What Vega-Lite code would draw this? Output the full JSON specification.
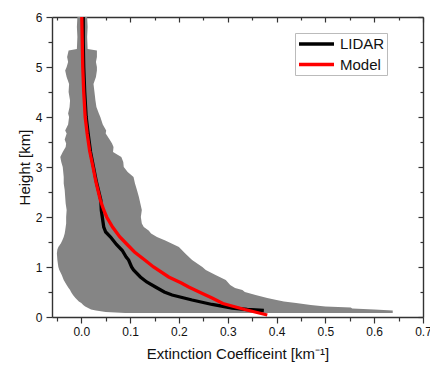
{
  "$schema": "https://vega.github.io/schema/vega-lite/v6.json",
  "width": 371,
  "height": 300,
  "autosize": {"type": "none"},
  "padding": {"left": 52, "top": 17, "right": 7, "bottom": 49},
  "background": "white",
  "config": {
    "view": {"stroke": null},
    "font": "Liberation Sans",
    "axis": {"grid": false, "domainColor": "#333", "domainWidth": 1.4, "tickColor": "#333", "tickWidth": 1.2, "labelColor": "#111", "titleColor": "#111", "labelFont": "Liberation Sans", "titleFont": "Liberation Sans", "labelFontSize": 12, "titleFontSize": 15, "titleFontWeight": "normal"}
  },
  "datasets": {
    "band": [
      {"h": 0.08, "lo": 0.09, "hi": 0.638},
      {"h": 0.10, "lo": 0.05, "hi": 0.638},
      {"h": 0.13, "lo": 0.03, "hi": 0.638},
      {"h": 0.15, "lo": 0.02, "hi": 0.60},
      {"h": 0.17, "lo": 0.016, "hi": 0.555},
      {"h": 0.19, "lo": 0.012, "hi": 0.552},
      {"h": 0.21, "lo": 0.008, "hi": 0.50},
      {"h": 0.24, "lo": 0.004, "hi": 0.47},
      {"h": 0.28, "lo": 0.0, "hi": 0.44},
      {"h": 0.31, "lo": -0.005, "hi": 0.415},
      {"h": 0.34, "lo": -0.008, "hi": 0.40},
      {"h": 0.38, "lo": -0.012, "hi": 0.381},
      {"h": 0.44, "lo": -0.017, "hi": 0.357},
      {"h": 0.50, "lo": -0.021, "hi": 0.335},
      {"h": 0.54, "lo": -0.023, "hi": 0.33},
      {"h": 0.58, "lo": -0.026, "hi": 0.315},
      {"h": 0.64, "lo": -0.030, "hi": 0.305},
      {"h": 0.74, "lo": -0.036, "hi": 0.296},
      {"h": 0.84, "lo": -0.040, "hi": 0.275},
      {"h": 0.94, "lo": -0.045, "hi": 0.255},
      {"h": 1.00, "lo": -0.047, "hi": 0.248},
      {"h": 1.14, "lo": -0.049, "hi": 0.227},
      {"h": 1.27, "lo": -0.050, "hi": 0.213},
      {"h": 1.35, "lo": -0.049, "hi": 0.205},
      {"h": 1.40, "lo": -0.047, "hi": 0.20},
      {"h": 1.47, "lo": -0.042, "hi": 0.185},
      {"h": 1.53, "lo": -0.039, "hi": 0.172},
      {"h": 1.60, "lo": -0.036, "hi": 0.155},
      {"h": 1.67, "lo": -0.034, "hi": 0.143},
      {"h": 1.73, "lo": -0.033, "hi": 0.138},
      {"h": 1.80, "lo": -0.032, "hi": 0.128},
      {"h": 1.87, "lo": -0.031, "hi": 0.124},
      {"h": 2.00, "lo": -0.031, "hi": 0.122},
      {"h": 2.14, "lo": -0.030, "hi": 0.124},
      {"h": 2.27, "lo": -0.032, "hi": 0.121},
      {"h": 2.40, "lo": -0.033, "hi": 0.118},
      {"h": 2.54, "lo": -0.034, "hi": 0.114},
      {"h": 2.67, "lo": -0.036, "hi": 0.110},
      {"h": 2.80, "lo": -0.036, "hi": 0.107},
      {"h": 2.90, "lo": -0.037, "hi": 0.095},
      {"h": 3.00, "lo": -0.038, "hi": 0.087},
      {"h": 3.10, "lo": -0.041, "hi": 0.086},
      {"h": 3.20, "lo": -0.043, "hi": 0.082},
      {"h": 3.30, "lo": -0.038, "hi": 0.065},
      {"h": 3.40, "lo": -0.032, "hi": 0.066},
      {"h": 3.47, "lo": -0.031, "hi": 0.063},
      {"h": 3.55, "lo": -0.034, "hi": 0.058},
      {"h": 3.67, "lo": -0.030, "hi": 0.050},
      {"h": 3.73, "lo": -0.033, "hi": 0.051},
      {"h": 3.85, "lo": -0.027, "hi": 0.044},
      {"h": 4.00, "lo": -0.025, "hi": 0.039},
      {"h": 4.07, "lo": -0.027, "hi": 0.036},
      {"h": 4.20, "lo": -0.024, "hi": 0.031},
      {"h": 4.33, "lo": -0.023, "hi": 0.029},
      {"h": 4.50, "lo": -0.026, "hi": 0.027},
      {"h": 4.66, "lo": -0.025, "hi": 0.025},
      {"h": 4.80, "lo": -0.030, "hi": 0.030},
      {"h": 4.93, "lo": -0.033, "hi": 0.032},
      {"h": 5.00, "lo": -0.030, "hi": 0.032},
      {"h": 5.10, "lo": -0.027, "hi": 0.030},
      {"h": 5.20, "lo": -0.029, "hi": 0.032},
      {"h": 5.33, "lo": -0.026, "hi": 0.032},
      {"h": 5.36, "lo": -0.009, "hi": 0.013},
      {"h": 5.60, "lo": -0.008, "hi": 0.012},
      {"h": 5.80, "lo": -0.009, "hi": 0.013},
      {"h": 6.00, "lo": -0.008, "hi": 0.012}
    ],
    "lines": [
      {"series": "LIDAR", "h": 0.13, "v": 0.374},
      {"series": "LIDAR", "h": 0.15, "v": 0.34},
      {"series": "LIDAR", "h": 0.18, "v": 0.309},
      {"series": "LIDAR", "h": 0.25, "v": 0.268},
      {"series": "LIDAR", "h": 0.34, "v": 0.227},
      {"series": "LIDAR", "h": 0.44, "v": 0.186},
      {"series": "LIDAR", "h": 0.50, "v": 0.170},
      {"series": "LIDAR", "h": 0.60, "v": 0.152},
      {"series": "LIDAR", "h": 0.70, "v": 0.134},
      {"series": "LIDAR", "h": 0.80, "v": 0.121},
      {"series": "LIDAR", "h": 0.94, "v": 0.107},
      {"series": "LIDAR", "h": 1.00, "v": 0.103},
      {"series": "LIDAR", "h": 1.14, "v": 0.097},
      {"series": "LIDAR", "h": 1.20, "v": 0.092},
      {"series": "LIDAR", "h": 1.33, "v": 0.084},
      {"series": "LIDAR", "h": 1.45, "v": 0.072},
      {"series": "LIDAR", "h": 1.60, "v": 0.060},
      {"series": "LIDAR", "h": 1.70, "v": 0.050},
      {"series": "LIDAR", "h": 1.80, "v": 0.046},
      {"series": "LIDAR", "h": 2.00, "v": 0.043},
      {"series": "LIDAR", "h": 2.14, "v": 0.041},
      {"series": "LIDAR", "h": 2.34, "v": 0.040},
      {"series": "LIDAR", "h": 2.70, "v": 0.031},
      {"series": "LIDAR", "h": 3.00, "v": 0.025},
      {"series": "LIDAR", "h": 3.30, "v": 0.019},
      {"series": "LIDAR", "h": 3.67, "v": 0.014},
      {"series": "LIDAR", "h": 4.00, "v": 0.010},
      {"series": "LIDAR", "h": 4.50, "v": 0.007},
      {"series": "LIDAR", "h": 5.00, "v": 0.005},
      {"series": "LIDAR", "h": 5.50, "v": 0.004},
      {"series": "LIDAR", "h": 6.00, "v": 0.004},
      {"series": "Model", "h": 0.04, "v": 0.381},
      {"series": "Model", "h": 0.15, "v": 0.335},
      {"series": "Model", "h": 0.27, "v": 0.290},
      {"series": "Model", "h": 0.38, "v": 0.268},
      {"series": "Model", "h": 0.47, "v": 0.248},
      {"series": "Model", "h": 0.60, "v": 0.220},
      {"series": "Model", "h": 0.68, "v": 0.205},
      {"series": "Model", "h": 0.80, "v": 0.179},
      {"series": "Model", "h": 1.00, "v": 0.148},
      {"series": "Model", "h": 1.14, "v": 0.130},
      {"series": "Model", "h": 1.30, "v": 0.109},
      {"series": "Model", "h": 1.47, "v": 0.092},
      {"series": "Model", "h": 1.60, "v": 0.079},
      {"series": "Model", "h": 1.80, "v": 0.064},
      {"series": "Model", "h": 2.00, "v": 0.052},
      {"series": "Model", "h": 2.14, "v": 0.046},
      {"series": "Model", "h": 2.34, "v": 0.039},
      {"series": "Model", "h": 2.70, "v": 0.030},
      {"series": "Model", "h": 3.00, "v": 0.024},
      {"series": "Model", "h": 3.33, "v": 0.017},
      {"series": "Model", "h": 3.67, "v": 0.012},
      {"series": "Model", "h": 4.00, "v": 0.008},
      {"series": "Model", "h": 4.50, "v": 0.005},
      {"series": "Model", "h": 5.00, "v": 0.003},
      {"series": "Model", "h": 5.50, "v": 0.002},
      {"series": "Model", "h": 6.00, "v": 0.001}
    ]
  },
  "layer": [
    {
      "data": {"name": "band"},
      "mark": {"type": "area", "orient": "horizontal", "color": "#858585", "clip": true},
      "encoding": {
        "y": {
          "field": "h", "type": "quantitative",
          "scale": {"domain": [0, 6], "nice": false, "zero": false},
          "axis": {
            "orient": "left",
            "values": [0, 0.5, 1, 1.5, 2, 2.5, 3, 3.5, 4, 4.5, 5, 5.5, 6],
            "labelExpr": "datum.value % 1 == 0 ? format(datum.value, 'd') : ''",
            "tickSize": {"condition": {"test": "datum.value % 1 == 0", "value": 6}, "value": 4},
            "labelPadding": 4,
            "labelOverlap": false,
            "labelFlush": false,
            "title": "Height [km]",
            "titlePadding": 3
          }
        },
        "x": {
          "field": "lo", "type": "quantitative",
          "scale": {"domain": [-0.06, 0.7], "nice": false, "zero": false},
          "axis": {
            "orient": "bottom",
            "values": [-0.05, 0, 0.05, 0.1, 0.15, 0.2, 0.25, 0.3, 0.35, 0.4, 0.45, 0.5, 0.55, 0.6, 0.65, 0.7],
            "labelExpr": "abs(datum.value*10 - round(datum.value*10)) < 0.001 ? format(datum.value, '.1f') : ''",
            "tickSize": {"condition": {"test": "abs(datum.value*10 - round(datum.value*10)) < 0.001", "value": 6}, "value": 4},
            "labelPadding": 3,
            "labelOverlap": false,
            "labelFlush": false,
            "title": "Extinction Coefficeint [km⁻¹]",
            "titlePadding": 9
          }
        },
        "x2": {"field": "hi"}
      }
    },
    {
      "data": {"name": "lines"},
      "mark": {"type": "line", "strokeWidth": 3.3, "clip": true},
      "encoding": {
        "x": {
          "field": "v", "type": "quantitative",
          "axis": {
            "orient": "top",
            "values": [-0.05, 0, 0.05, 0.1, 0.15, 0.2, 0.25, 0.3, 0.35, 0.4, 0.45, 0.5, 0.55, 0.6, 0.65, 0.7],
            "labels": false,
            "tickSize": {"condition": {"test": "abs(datum.value*10 - round(datum.value*10)) < 0.001", "value": -5}, "value": -3},
            "title": null
          }
        },
        "y": {
          "field": "h", "type": "quantitative",
          "axis": {
            "orient": "right",
            "values": [0, 0.5, 1, 1.5, 2, 2.5, 3, 3.5, 4, 4.5, 5, 5.5, 6],
            "labels": false,
            "tickSize": {"condition": {"test": "datum.value % 1 == 0", "value": -5}, "value": -3},
            "title": null
          }
        },
        "order": {"field": "h", "type": "quantitative"},
        "color": {
          "field": "series", "type": "nominal",
          "scale": {"domain": ["LIDAR", "Model"], "range": ["#000000", "#ff0000"]},
          "legend": {
            "title": null,
            "orient": "none",
            "legendX": 243,
            "legendY": 16,
            "symbolType": "M-1,0H4",
            "symbolSize": 196,
            "symbolStrokeWidth": 3.5,
            "labelFont": "Liberation Sans",
            "labelFontSize": 15,
            "labelColor": "#111",
            "labelOffset": 25,
            "strokeColor": "#bbbbbb",
            "fillColor": "white",
            "padding": 2,
            "rowPadding": 3.5
          }
        }
      }
    }
  ],
  "resolve": {"axis": {"x": "independent", "y": "independent"}}
}
